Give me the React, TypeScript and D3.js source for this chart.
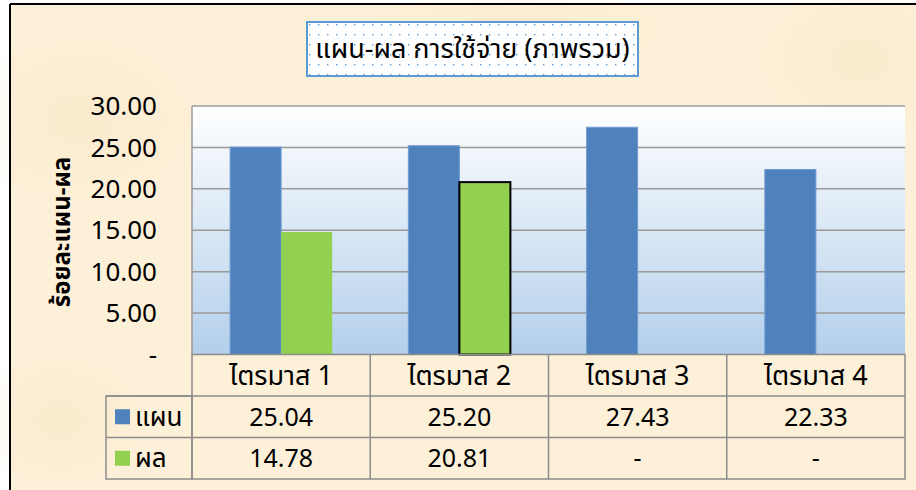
import React from 'react'
import * as d3 from 'd3'

const categories = ['ไตรมาส 1', 'ไตรมาส 2', 'ไตรมาส 3', 'ไตรมาส 4']
const seriesNames = ['แผน', 'ผล']
const planValues: (number | null)[] = [25.04, 25.2, 27.43, 22.33]
const actualValues: (number | null)[] = [14.78, 20.81, null, null]
const yTicks = [0, 5, 10, 15, 20, 25, 30]
const colors = ['#4f81bd', '#92d050']

const width = 916
const height = 490
const plot = { left: 192, right: 905, top: 106, bottom: 354.5 }
const rowH = 41.5
const tableLeft = 106
const font = "Tahoma, 'Noto Sans Thai', 'Loma', 'Garuda', 'DejaVu Sans', sans-serif"

const x0 = d3.scaleBand<string>().domain(categories).range([plot.left, plot.right]).padding(0)
const x1 = d3
  .scaleBand<string>()
  .domain(seriesNames)
  .range([0, x0.bandwidth()])
  .paddingInner(0)
  .paddingOuter(0.747)
const y = d3.scaleLinear().domain([0, 30]).range([plot.bottom, plot.top])

const fmt = (v: number | null) => (v == null ? '-' : d3.format('.2f')(v))
const tickFmt = (v: number) => (v === 0 ? '-' : d3.format('.2f')(v))

const rows = [planValues, actualValues]

export default function App() {
  return (
    <svg
      width={width}
      height={height}
      style={{ position: 'fixed', left: 0, top: 0, background: '#fff' }}
      fontFamily={font}
    >
      <defs>
        <linearGradient id="plotBg" x1="0" y1="0" x2="0" y2="1">
          <stop offset="0" stopColor="#ffffff" />
          <stop offset="1" stopColor="#b3cfeb" />
        </linearGradient>
        <radialGradient id="blot" cx="0.5" cy="0.5" r="0.5">
          <stop offset="0" stopColor="#f8e6c4" stopOpacity="0.5" />
          <stop offset="1" stopColor="#f8e6c4" stopOpacity="0" />
        </radialGradient>
        <pattern id="dots" width="9" height="10" patternUnits="userSpaceOnUse">
          <rect width="9" height="10" fill="#fff" />
          <rect x="3" y="4" width="1.4" height="1.4" fill="#5b9bd5" />
        </pattern>
      </defs>

      {/* parchment background */}
      <rect x={10} y={4} width={width - 10} height={height - 4} fill="#fdf0d8" />
      <ellipse cx={80} cy={120} rx={120} ry={90} fill="url(#blot)" />
      <ellipse cx={860} cy={60} rx={110} ry={80} fill="url(#blot)" />
      <ellipse cx={520} cy={30} rx={160} ry={40} fill="url(#blot)" />
      <ellipse cx={60} cy={420} rx={90} ry={70} fill="url(#blot)" />
      <line x1={10} x2={10} y1={4} y2={height} stroke="#000" strokeWidth={2} />
      <line x1={10} x2={width} y1={4} y2={4} stroke="#000" strokeWidth={2} />

      {/* title */}
      <rect x={307} y={22} width={331} height={54} fill="url(#dots)" stroke="#5b9bd5" strokeWidth={2} />
      <text x={472.5} y={58} textAnchor="middle" fontSize={27} fill="#000">
        แผน-ผล การใช้จ่าย (ภาพรวม)
      </text>

      {/* plot area */}
      <rect
        x={plot.left}
        y={plot.top}
        width={plot.right - plot.left}
        height={plot.bottom - plot.top}
        fill="url(#plotBg)"
      />
      {yTicks.slice(1).map(t => (
        <line
          key={t}
          x1={plot.left}
          x2={plot.right}
          y1={y(t)}
          y2={y(t)}
          stroke="#9a9a9a"
          strokeWidth={1.5}
        />
      ))}
      <line x1={plot.left} x2={plot.left} y1={plot.top} y2={plot.bottom} stroke="#9a9a9a" strokeWidth={1.5} />

      {/* bars */}
      {categories.map((c, i) => (
        <g key={c} transform={`translate(${x0(c)},0)`}>
          {rows.map((vals, s) => {
            const v = vals[i]
            if (v == null) return null
            return (
              <rect
                key={s}
                x={x1(seriesNames[s])}
                y={y(v)}
                width={x1.bandwidth()}
                height={y(0) - y(v)}
                fill={colors[s]}
                stroke={s === 1 && i === 1 ? '#000' : s === 0 ? '#6f9bd0' : 'none'}
                strokeWidth={s === 1 && i === 1 ? 2 : 1}
              />
            )
          })}
        </g>
      ))}

      {/* y axis labels */}
      {yTicks.map(t => (
        <text key={t} x={157} y={y(t)} dy="0.35em" textAnchor="end" fontSize={26} fill="#000">
          {tickFmt(t)}
        </text>
      ))}
      <text
        transform={`translate(70,${232}) rotate(-90)`}
        textAnchor="middle"
        fontSize={24}
        fontWeight="bold"
        fill="#000"
      >
        ร้อยละแผน-ผล
      </text>

      {/* data table */}
      <g stroke="#8c8c8c" strokeWidth={1.5} fill="none">
        <rect x={plot.left} y={plot.bottom} width={plot.right - plot.left} height={rowH * 3} />
        <rect x={tableLeft} y={plot.bottom + rowH} width={plot.left - tableLeft} height={rowH * 2} />
        <line x1={tableLeft} x2={plot.right} y1={plot.bottom + rowH} y2={plot.bottom + rowH} />
        <line x1={tableLeft} x2={plot.right} y1={plot.bottom + rowH * 2} y2={plot.bottom + rowH * 2} />
        {categories.slice(1).map(c => (
          <line key={c} x1={x0(c)} x2={x0(c)} y1={plot.bottom} y2={plot.bottom + rowH * 3} />
        ))}
      </g>
      {categories.map(c => (
        <text
          key={c}
          x={(x0(c) as number) + x0.bandwidth() / 2}
          y={plot.bottom + rowH / 2}
          dy="0.35em"
          textAnchor="middle"
          fontSize={27}
          fill="#000"
        >
          {c}
        </text>
      ))}
      {rows.map((vals, s) => (
        <g key={s}>
          <rect
            x={115}
            y={plot.bottom + rowH * (s + 1.5) - 7.5}
            width={15}
            height={15}
            fill={colors[s]}
          />
          <text x={135} y={plot.bottom + rowH * (s + 1.5)} dy="0.35em" fontSize={26} fill="#000">
            {seriesNames[s]}
          </text>
          {categories.map((c, i) => (
            <text
              key={c}
              x={(x0(c) as number) + x0.bandwidth() / 2}
              y={plot.bottom + rowH * (s + 1.5)}
              dy="0.35em"
              textAnchor="middle"
              fontSize={25}
              fill="#000"
            >
              {fmt(vals[i])}
            </text>
          ))}
        </g>
      ))}
    </svg>
  )
}
